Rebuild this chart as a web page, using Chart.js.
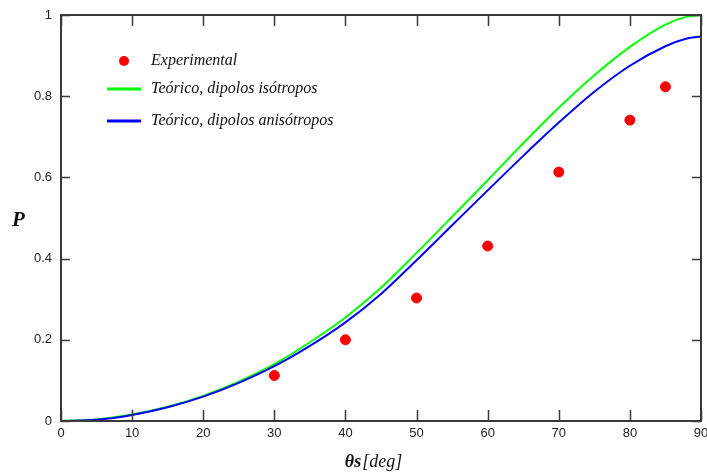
<!DOCTYPE html>
<html>
<head>
<meta charset="utf-8">
<script src="https://cdn.jsdelivr.net/npm/chart.js@4.4.1/dist/chart.umd.min.js"></script>
<style>
  html, body { margin: 0; padding: 0; background: #fff; }
  #wrap { width: 707px; height: 473px; position: relative; }
</style>
</head>
<body>
<div id="wrap"><canvas id="chartP"></canvas></div>
<script>
// datos
const angulos = [0, 5, 10, 15, 20, 25, 30, 35, 40, 45, 50, 55, 60, 65, 70, 75, 80, 85, 88, 90];
const pIsotropos = [0, 0.004, 0.016, 0.035, 0.062, 0.097, 0.14, 0.194, 0.255, 0.328, 0.414, 0.503, 0.593, 0.684, 0.7715, 0.8515, 0.9215, 0.9765, 0.996, 1.0];
const pAnisotropos = [0, 0.003, 0.015, 0.034, 0.06, 0.094, 0.135, 0.185, 0.243, 0.313, 0.396, 0.482, 0.568, 0.653, 0.735, 0.811, 0.875, 0.923, 0.942, 0.947];
const expAngulos = [30, 40, 50, 60, 70, 80, 85];
const expValores = [0.112, 0.2, 0.303, 0.431, 0.613, 0.741, 0.823];
const xTicks = [0, 10, 20, 30, 40, 50, 60, 70, 80, 90];
const yTicks = [0, 0.2, 0.4, 0.6, 0.8, 1];

const toXY = (xs, ys) => xs.map((x, i) => ({ x: x, y: ys[i] }));

// marco con ticks hacia adentro, leyenda y titulos
const decoPlugin = {
  id: 'deco',
  afterDatasetsDraw(chart) {
    const { ctx, chartArea: a, scales } = chart;
    const sx = scales.x, sy = scales.y;
    ctx.save();
    ctx.strokeStyle = '#3a3a3a';
    ctx.lineWidth = 2;
    ctx.strokeRect(a.left, a.top, a.right - a.left, a.bottom - a.top);
    ctx.lineWidth = 1.5;
    ctx.beginPath();
    xTicks.forEach(v => {
      const px = Math.round(sx.getPixelForValue(v)) + 0.5;
      ctx.moveTo(px, a.bottom); ctx.lineTo(px, a.bottom - 11);
      ctx.moveTo(px, a.top); ctx.lineTo(px, a.top + 11);
    });
    yTicks.forEach(v => {
      const py = Math.round(sy.getPixelForValue(v)) + 0.5;
      ctx.moveTo(a.left, py); ctx.lineTo(a.left + 9, py);
      ctx.moveTo(a.right, py); ctx.lineTo(a.right - 9, py);
    });
    ctx.stroke();

    // leyenda
    const ds = chart.data.datasets;
    const items = [ds[0], ds[2], ds[1]];
    const ys = [61, 89, 121];
    ctx.font = 'italic 16px "Liberation Serif"';
    ctx.textBaseline = 'middle';
    ctx.textAlign = 'left';
    items.forEach((d, i) => {
      if (d.showLine === false) {
        ctx.fillStyle = d.backgroundColor;
        ctx.beginPath(); ctx.arc(124, ys[i], 5, 0, Math.PI * 2); ctx.fill();
      } else {
        ctx.strokeStyle = d.borderColor; ctx.lineWidth = 3;
        ctx.beginPath(); ctx.moveTo(107, ys[i]); ctx.lineTo(141, ys[i]); ctx.stroke();
      }
      ctx.fillStyle = '#111';
      ctx.fillText(d.label, 151, ys[i]);
    });

    // titulos de ejes
    ctx.fillStyle = '#111';
    ctx.font = 'bold italic 21px "Liberation Serif"';
    ctx.fillText('P', 12, 221);
    ctx.font = 'bold italic 18px "Liberation Serif"';
    const t1 = 'θs';
    const w1 = ctx.measureText(t1).width;
    ctx.font = 'italic 18px "Liberation Serif"';
    const t2 = '[deg]';
    const w2 = ctx.measureText(t2).width;
    const x0 = 373 - (w1 + w2) / 2;
    ctx.font = 'bold italic 18px "Liberation Serif"';
    ctx.fillText(t1, x0, 462);
    ctx.font = 'italic 18px "Liberation Serif"';
    ctx.fillText(t2, x0 + w1 + 1, 462);
    ctx.restore();
  }
};

const tickFont = { family: '"Liberation Sans Narrow", "Liberation Sans", sans-serif', size: 13 };

new Chart(document.getElementById('chartP'), {
  type: 'scatter',
  data: {
    datasets: [
      {
        label: 'Experimental',
        data: toXY(expAngulos, expValores),
        showLine: false,
        backgroundColor: '#ff0000',
        borderColor: '#ff0000',
        pointRadius: 5,
        order: 0
      },
      {
        label: 'Teórico, dipolos anisótropos',
        data: toXY(angulos, pAnisotropos),
        showLine: true,
        borderColor: '#0000ff',
        backgroundColor: '#0000ff',
        borderWidth: 2,
        pointRadius: 0,
        cubicInterpolationMode: 'monotone',
        order: 1
      },
      {
        label: 'Teórico, dipolos isótropos',
        data: toXY(angulos, pIsotropos),
        showLine: true,
        borderColor: '#00ff00',
        backgroundColor: '#00ff00',
        borderWidth: 2,
        pointRadius: 0,
        cubicInterpolationMode: 'monotone',
        order: 2
      }
    ]
  },
  options: {
    responsive: true,
    maintainAspectRatio: false,
    animation: false,
    layout: { padding: { left: 0, right: 3, top: 15, bottom: 0 } },
    plugins: { legend: { display: false }, tooltip: { enabled: false } },
    scales: {
      x: {
        type: 'linear', min: 0, max: 90,
        afterFit: s => { s.height = 52; s.paddingLeft = 0; s.paddingRight = 0; },
        afterBuildTicks: s => { s.ticks = xTicks.map(v => ({ value: v })); },
        grid: { display: false, tickLength: 0 },
        border: { display: false },
        ticks: { color: '#222', font: tickFont, padding: 5, maxRotation: 0 }
      },
      y: {
        type: 'linear', min: 0, max: 1,
        afterFit: s => { s.width = 61; s.paddingTop = 0; s.paddingBottom = 0; },
        afterBuildTicks: s => { s.ticks = yTicks.map(v => ({ value: v })); },
        grid: { display: false, tickLength: 0 },
        border: { display: false },
        ticks: { color: '#222', font: tickFont, padding: 9, callback: v => String(v) }
      }
    }
  },
  plugins: [decoPlugin]
});
</script>
</body>
</html>
